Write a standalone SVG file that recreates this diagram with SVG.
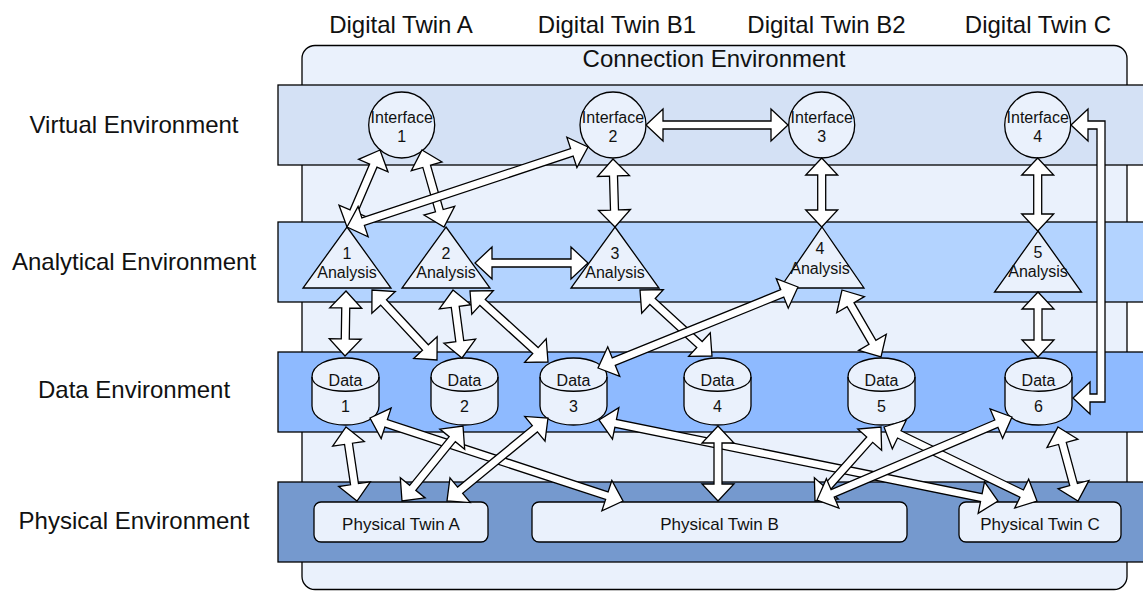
<svg xmlns="http://www.w3.org/2000/svg" width="1143" height="591" viewBox="0 0 1143 591">
<style>
.t{font-family:"Liberation Sans",Arial,Helvetica,sans-serif;fill:#111;text-anchor:middle}
.big{font-size:24px}
.sm{font-size:16px}
.pt{font-size:17px}
.node{fill:#EAF1FC;stroke:#000;stroke-width:1.3}
.ar polygon{fill:#fff;stroke:#000;stroke-width:1.3;stroke-linejoin:miter}
</style>
<defs>
<g id="cyl">
<path d="M0,19 C0,-6.33 67,-6.33 67,19 L67,48 C67,73.33 0,73.33 0,48 Z" class="node"/>
<path d="M0,19 C0,38 67,38 67,19" fill="none" stroke="#000" stroke-width="1.3"/>
</g>
</defs>
<rect width="1143" height="591" fill="#fff"/>
<g id="connection-environment">
<rect x="302" y="45.5" width="825" height="544" rx="13" fill="#EAF1FC" stroke="#000" stroke-width="1.3"/>
<text class="t big" x="714" y="66.5">Connection Environment</text>
</g>
<g id="lanes">
<rect id="virtual-band" x="278" y="85" width="880" height="80" fill="#D4E1F5" stroke="#000" stroke-width="1.3"/>
<rect id="analytical-band" x="278" y="222" width="880" height="80" fill="#B3D3FF" stroke="#000" stroke-width="1.3"/>
<rect id="data-band" x="278" y="352" width="880" height="80" fill="#8EBAFF" stroke="#000" stroke-width="1.3"/>
<rect id="physical-band" x="278" y="482" width="880" height="80" fill="#7599CE" stroke="#000" stroke-width="1.3"/>
</g>
<g id="labels">
<text class="t big" x="401" y="32.5">Digital Twin A</text>
<text class="t big" x="617" y="32.5">Digital Twin B1</text>
<text class="t big" x="826.5" y="32.5">Digital Twin B2</text>
<text class="t big" x="1038" y="32.5">Digital Twin C</text>
<text class="t big" x="134" y="133">Virtual Environment</text>
<text class="t big" x="134" y="270">Analytical Environment</text>
<text class="t big" x="134" y="398">Data Environment</text>
<text class="t big" x="134" y="529">Physical Environment</text>
</g>
<g id="interface-1"><circle cx="401.7" cy="125" r="33" class="node"/><text class="t sm" x="401.7" y="122.5">Interface</text><text class="t sm" x="401.7" y="141.5">1</text></g>
<g id="interface-2"><circle cx="613" cy="125" r="33" class="node"/><text class="t sm" x="613" y="122.5">Interface</text><text class="t sm" x="613" y="141.5">2</text></g>
<g id="interface-3"><circle cx="821.7" cy="125" r="33" class="node"/><text class="t sm" x="821.7" y="122.5">Interface</text><text class="t sm" x="821.7" y="141.5">3</text></g>
<g id="interface-4"><circle cx="1037.7" cy="125" r="33" class="node"/><text class="t sm" x="1037.7" y="122.5">Interface</text><text class="t sm" x="1037.7" y="141.5">4</text></g>
<g id="analysis-1"><polygon points="347,227 391,288 303,288" class="node"/><text class="t sm" x="347" y="259">1</text><text class="t sm" x="347" y="277.5">Analysis</text></g>
<g id="analysis-2"><polygon points="446,227 490,288 402,288" class="node"/><text class="t sm" x="446" y="259">2</text><text class="t sm" x="446" y="277.5">Analysis</text></g>
<g id="analysis-3"><polygon points="615,227 659,288 571,288" class="node"/><text class="t sm" x="615" y="259">3</text><text class="t sm" x="615" y="277.5">Analysis</text></g>
<g id="analysis-4"><polygon points="822,227 864,288 780,288" class="node"/><text class="t sm" x="820" y="254">4</text><text class="t sm" x="820" y="273.5">Analysis</text></g>
<g id="analysis-5"><polygon points="1038,231 1081.5,292 994.5,292" class="node"/><text class="t sm" x="1038" y="258">5</text><text class="t sm" x="1038" y="277">Analysis</text></g>
<g id="data-1"><use href="#cyl" x="312" y="358"/><text class="t sm" x="345.5" y="386">Data</text><text class="t sm" x="345.5" y="412">1</text></g>
<g id="data-2"><use href="#cyl" x="431" y="358"/><text class="t sm" x="464.5" y="386">Data</text><text class="t sm" x="464.5" y="412">2</text></g>
<g id="data-3"><use href="#cyl" x="540" y="358"/><text class="t sm" x="573.5" y="386">Data</text><text class="t sm" x="573.5" y="412">3</text></g>
<g id="data-4"><use href="#cyl" x="684" y="358"/><text class="t sm" x="717.5" y="386">Data</text><text class="t sm" x="717.5" y="412">4</text></g>
<g id="data-5"><use href="#cyl" x="848" y="358"/><text class="t sm" x="881.5" y="386">Data</text><text class="t sm" x="881.5" y="412">5</text></g>
<g id="data-6"><use href="#cyl" x="1005" y="358"/><text class="t sm" x="1038.5" y="386">Data</text><text class="t sm" x="1038.5" y="412">6</text></g>
<g id="physical-twin-a"><rect x="314" y="502" width="174" height="40" rx="7" class="node"/><text class="t pt" x="401" y="530">Physical Twin A</text></g>
<g id="physical-twin-b"><rect x="532" y="502" width="375" height="40" rx="7" class="node"/><text class="t pt" x="719.5" y="530">Physical Twin B</text></g>
<g id="physical-twin-c"><rect x="959" y="502" width="162" height="40" rx="7" class="node"/><text class="t pt" x="1040" y="530">Physical Twin C</text></g>
<g id="connectors" class="ar">
<polygon transform="translate(380 150) rotate(113.2)" points="0,0 17,-16 17,-4 66.77,-4 66.77,-16 83.77,0 66.77,16 66.77,4 17,4 17,16"/>
<polygon transform="translate(422 150) rotate(74.05)" points="0,0 17,-16 17,-4 63.08,-4 63.08,-16 80.08,0 63.08,16 63.08,4 17,4 17,16"/>
<polygon transform="translate(347 227) rotate(-18.36)" points="0,0 17,-16 17,-4 236.93,-4 236.93,-16 253.93,0 236.93,16 236.93,4 17,4 17,16"/>
<polygon transform="translate(646 125)" points="0,0 17,-16 17,-4 125,-4 125,-16 142,0 125,16 125,4 17,4 17,16"/>
<polygon transform="translate(613 159) rotate(88.32)" points="0,0 17,-16 17,-4 51.03,-4 51.03,-16 68.03,0 51.03,16 51.03,4 17,4 17,16"/>
<polygon transform="translate(821.7 158) rotate(90)" points="0,0 17,-16 17,-4 52,-4 52,-16 69,0 52,16 52,4 17,4 17,16"/>
<polygon transform="translate(1037.7 158) rotate(90)" points="0,0 17,-16 17,-4 56,-4 56,-16 73,0 56,16 56,4 17,4 17,16"/>
<polygon points="1071,125 1088,109 1088,121 1105,121 1105,402 1090,402 1090,414 1073,398 1090,382 1090,394 1097,394 1097,129 1088,129 1088,141"/>
<polygon transform="translate(475 263)" points="0,0 17,-16 17,-4 96,-4 96,-16 113,0 96,16 96,4 17,4 17,16"/>
<polygon transform="translate(346 291) rotate(90.88)" points="0,0 17,-16 17,-4 48.01,-4 48.01,-16 65.01,0 48.01,16 48.01,4 17,4 17,16"/>
<polygon transform="translate(372 290) rotate(47.12)" points="0,0 17,-16 17,-4 78.52,-4 78.52,-16 95.52,0 78.52,16 78.52,4 17,4 17,16"/>
<polygon transform="translate(453 290) rotate(82.46)" points="0,0 17,-16 17,-4 51.59,-4 51.59,-16 68.59,0 51.59,16 51.59,4 17,4 17,16"/>
<polygon transform="translate(470 291) rotate(42.31)" points="0,0 17,-16 17,-4 88.48,-4 88.48,-16 105.48,0 88.48,16 88.48,4 17,4 17,16"/>
<polygon transform="translate(640 290) rotate(42.51)" points="0,0 17,-16 17,-4 80.67,-4 80.67,-16 97.67,0 80.67,16 80.67,4 17,4 17,16"/>
<polygon transform="translate(798 287) rotate(157.95)" points="0,0 17,-16 17,-4 198.78,-4 198.78,-16 215.78,0 198.78,16 198.78,4 17,4 17,16"/>
<polygon transform="translate(842 290) rotate(59.79)" points="0,0 17,-16 17,-4 60.52,-4 60.52,-16 77.52,0 60.52,16 60.52,4 17,4 17,16"/>
<polygon transform="translate(1038 292) rotate(90)" points="0,0 17,-16 17,-4 48,-4 48,-16 65,0 48,16 48,4 17,4 17,16"/>
<polygon transform="translate(346 427) rotate(81.55)" points="0,0 17,-16 17,-4 57.81,-4 57.81,-16 74.81,0 57.81,16 57.81,4 17,4 17,16"/>
<polygon transform="translate(370 418) rotate(18.16)" points="0,0 17,-16 17,-4 249.27,-4 249.27,-16 266.27,0 249.27,16 249.27,4 17,4 17,16"/>
<polygon transform="translate(463 426) rotate(129.12)" points="0,0 17,-16 17,-4 79.68,-4 79.68,-16 96.68,0 79.68,16 79.68,4 17,4 17,16"/>
<polygon transform="translate(548 418) rotate(140.59)" points="0,0 17,-16 17,-4 113.73,-4 113.73,-16 130.73,0 113.73,16 113.73,4 17,4 17,16"/>
<polygon transform="translate(599 420) rotate(11.48)" points="0,0 17,-16 17,-4 390.14,-4 390.14,-16 407.14,0 390.14,16 390.14,4 17,4 17,16"/>
<polygon transform="translate(884 427) rotate(25.81)" points="0,0 17,-16 17,-4 152.96,-4 152.96,-16 169.96,0 152.96,16 152.96,4 17,4 17,16"/>
<polygon transform="translate(881 427) rotate(131.73)" points="0,0 17,-16 17,-4 82.16,-4 82.16,-16 99.16,0 82.16,16 82.16,4 17,4 17,16"/>
<polygon transform="translate(1012 417) rotate(156.94)" points="0,0 17,-16 17,-4 194.93,-4 194.93,-16 211.93,0 194.93,16 194.93,4 17,4 17,16"/>
<polygon transform="translate(1058 427) rotate(74.88)" points="0,0 17,-16 17,-4 59.66,-4 59.66,-16 76.66,0 59.66,16 59.66,4 17,4 17,16"/>
<polygon transform="translate(718 426) rotate(90)" points="0,0 17,-16 17,-4 58,-4 58,-16 75,0 58,16 58,4 17,4 17,16"/>
</g>
</svg>
